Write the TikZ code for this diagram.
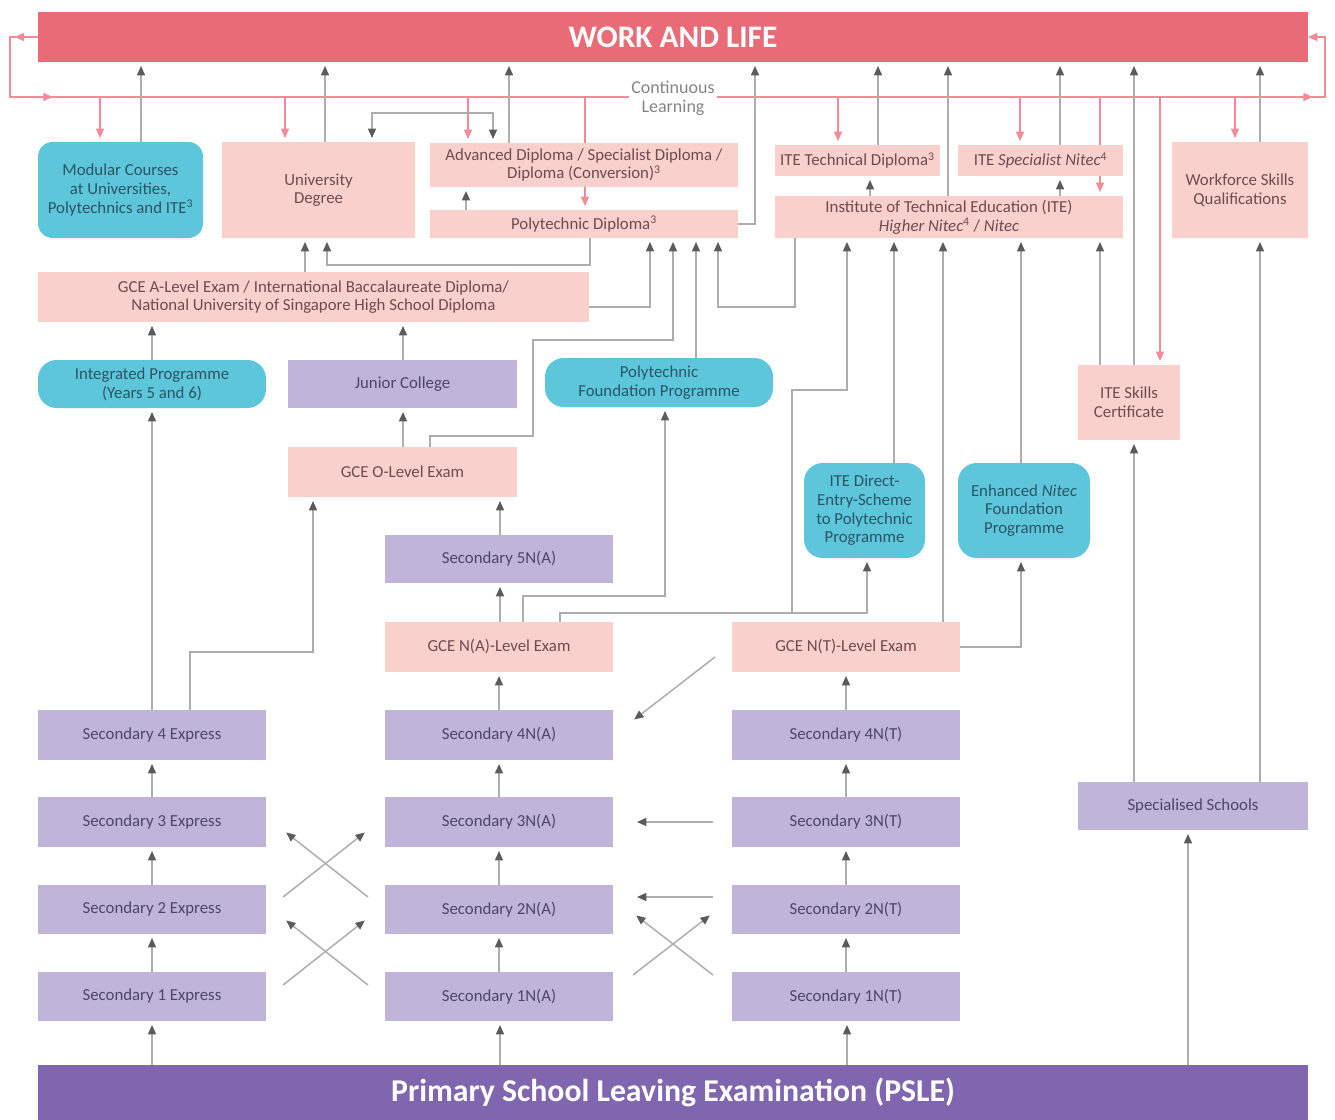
\documentclass[tikz,border=0pt]{standalone}
\usepackage{fontspec}
\setmainfont{Carlito}
\usetikzlibrary{arrows.meta,decorations.markings,calc}
\pgfdeclarelayer{paper}
\pgfdeclarelayer{bg}
\pgfsetlayers{paper,bg,main}
\definecolor{walc}{HTML}{EA6B78}
\definecolor{pinkc}{HTML}{F9D0CC}
\definecolor{purc}{HTML}{C1B4DA}
\definecolor{cyanc}{HTML}{5DC6DA}
\definecolor{pslec}{HTML}{7F66AF}
\definecolor{pkline}{HTML}{F28A97}
\definecolor{gline}{HTML}{ADADAD}
\definecolor{tipc}{HTML}{5B5B5B}
\definecolor{pinktxt}{HTML}{6D4C4F}
\definecolor{purtxt}{HTML}{4D4568}
\definecolor{cyantxt}{HTML}{2A5566}
\definecolor{cltxt}{HTML}{858585}
\newcommand\bx[7]{\pgfmathsetmacro\bxw{(#5-#3)*0.75}\pgfmathsetmacro\bxh{(#6-#4)*0.75}%
  \node[#1, minimum width=\bxw pt, minimum height=\bxh pt] (#2) at ({(#3+#5)/2},{(#4+#6)/2}) {#7};}
\newcommand\vup[4]{\draw[#1] (#2,0 |- #3) -- (#2,0 |- #4);}
\tikzset{
  base/.style={rectangle, inner sep=2pt, outer sep=0pt, align=center, font=\fontsize{12.6}{14}\selectfont},
  pinkbox/.style={base, fill=pinkc, text=pinktxt},
  purbox/.style={base, fill=purc, text=purtxt},
  cyanbox/.style={base, fill=cyanc, text=cyantxt, rounded corners=14pt},
  walbox/.style={base, fill=walc, text=white, font=\fontsize{23.5}{26}\selectfont\bfseries},
  pslebox/.style={base, fill=pslec, text=white, font=\fontsize{23.8}{26}\selectfont\bfseries},
  gar/.style={draw=gline, line width=1.1pt, -{Triangle[length=7pt,width=6pt,color=tipc]}, shorten >=3pt},
  gboth/.style={draw=gline, line width=1.1pt, {Triangle[length=7pt,width=6pt,color=tipc]}-{Triangle[length=7pt,width=6pt,color=tipc]}, shorten >=3pt, shorten <=3pt},
  pka/.style={draw=pkline, line width=0.9pt, -{Triangle[length=7pt,width=6pt,color=pkline]}, shorten >=3pt},
}
\begin{document}
\begin{tikzpicture}[x=0.75pt, y=-0.75pt]
\begin{pgfonlayer}{paper}
\fill[white] (0,0) rectangle (1335,1120);
\end{pgfonlayer}
\useasboundingbox (0,0) rectangle (1335,1120);
% boxes
\bx{walbox}{wal}{38}{12}{1308}{62}{WORK AND LIFE}
\bx{cyanbox, rounded corners=11pt}{mod}{38}{142}{203}{238}{Modular Courses\\at Universities,\\Polytechnics and ITE\textsuperscript{3}}
\bx{pinkbox}{uni}{222}{142}{415}{238}{University\\Degree}
\bx{pinkbox}{adv}{430}{143}{738}{187}{Advanced Diploma / Specialist Diploma /\\Diploma (Conversion)\textsuperscript{3}}
\bx{pinkbox}{poly}{430}{210}{738}{238}{Polytechnic Diploma\textsuperscript{3}}
\bx{pinkbox}{itetd}{775}{145}{940}{176}{ITE Technical Diploma\textsuperscript{3}}
\bx{pinkbox}{itesn}{958}{145}{1123}{176}{ITE \textit{Specialist Nitec}\textsuperscript{4}}
\bx{pinkbox}{ite}{775}{196}{1123}{238}{Institute of Technical Education (ITE)\\\textit{Higher Nitec}\textsuperscript{4} / \textit{Nitec}}
\bx{pinkbox}{wsq}{1172}{142}{1308}{238}{Workforce Skills\\Qualifications}
\bx{pinkbox}{alevel}{38}{272}{589}{322}{GCE A-Level Exam / International Baccalaureate Diploma/\\National University of Singapore High School Diploma}
\bx{cyanbox}{ip}{38}{360}{266}{408}{Integrated Programme\\(Years 5 and 6)}
\bx{purbox}{jc}{288}{360}{517}{408}{Junior College}
\bx{cyanbox}{pfp}{545}{358}{773}{407}{Polytechnic\\Foundation Programme}
\bx{pinkbox}{itesc}{1078}{365}{1180}{440}{ITE Skills\\Certificate}
\bx{pinkbox}{olevel}{288}{447}{517}{497}{GCE O-Level Exam}
\bx{cyanbox}{dsp}{804}{463}{925}{558}{ITE Direct-\\Entry-Scheme\\to Polytechnic\\Programme}
\bx{cyanbox}{enfp}{958}{463}{1090}{558}{Enhanced \textit{Nitec}\\Foundation\\Programme}
\bx{purbox}{sec5na}{385}{535}{613}{583}{Secondary 5N(A)}
\bx{pinkbox}{gcena}{385}{622}{613}{672}{GCE N(A)-Level Exam}
\bx{pinkbox}{gcent}{732}{622}{960}{672}{GCE N(T)-Level Exam}
\bx{purbox}{sec4e}{38}{710}{266}{760}{Secondary 4 Express}
\bx{purbox}{sec4na}{385}{710}{613}{760}{Secondary 4N(A)}
\bx{purbox}{sec4nt}{732}{710}{960}{760}{Secondary 4N(T)}
\bx{purbox}{sec3e}{38}{797}{266}{847}{Secondary 3 Express}
\bx{purbox}{sec3na}{385}{797}{613}{847}{Secondary 3N(A)}
\bx{purbox}{sec3nt}{732}{797}{960}{847}{Secondary 3N(T)}
\bx{purbox}{sec2e}{38}{885}{266}{934}{Secondary 2 Express}
\bx{purbox}{sec2na}{385}{885}{613}{934}{Secondary 2N(A)}
\bx{purbox}{sec2nt}{732}{885}{960}{934}{Secondary 2N(T)}
\bx{purbox}{sec1e}{38}{972}{266}{1021}{Secondary 1 Express}
\bx{purbox}{sec1na}{385}{972}{613}{1021}{Secondary 1N(A)}
\bx{purbox}{sec1nt}{732}{972}{960}{1021}{Secondary 1N(T)}
\bx{purbox}{spec}{1078}{782}{1308}{830}{Specialised Schools}
\bx{pslebox}{psle}{38}{1065}{1308}{1120}{Primary School Leaving Examination (PSLE)}
\coordinate (cl) at (10,97);
\coordinate (cr) at (1325,97);
\node[fill=white, inner sep=1.5pt, align=center, text=cltxt, font=\fontsize{13.5}{14}\selectfont] (cll) at (673,98) {Continuous\\Learning};
\begin{pgfonlayer}{bg}
% continuous learning loop
\draw[draw=pkline, line width=0.9pt, -{Triangle[length=7pt,width=6pt,color=pkline]},
  decoration={markings,
    mark=at position 17.5pt with {\arrow{Triangle[length=7pt,width=6pt,color=pkline]}},
    mark=at position 98pt with {\arrow{Triangle[length=7pt,width=6pt,color=pkline]}},
    mark=at position 1043pt with {\arrow{Triangle[length=7pt,width=6pt,color=pkline]}}},
  postaction={decorate}]
  (wal.west) -- (cl |- wal.west) -- (cl) -- (cr) -- (cr |- wal.east) -- (wal.east);
% pink feeders
\vup{pka}{100}{cl}{mod.north}
\vup{pka}{285}{cl}{uni.north}
\vup{pka}{468}{cl}{adv.north}
\vup{pka}{585}{cl}{poly.north}
\vup{pka}{838}{cl}{itetd.north}
\vup{pka}{1020}{cl}{itesn.north}
\vup{pka}{1100}{cl}{ite.north}
\vup{pka}{1160}{cl}{itesc.north}
\vup{pka}{1235}{cl}{wsq.north}
% up to work and life
\vup{gar}{141}{mod.north}{wal.south}
\vup{gar}{325}{uni.north}{wal.south}
\vup{gar}{509}{adv.north}{wal.south}
\draw[gar] (poly.east) -- (755,0 |- poly.east) -- (755,0 |- wal.south);
\vup{gar}{878}{itetd.north}{wal.south}
\vup{gar}{948}{ite.north}{wal.south}
\vup{gar}{1060}{itesn.north}{wal.south}
\vup{gar}{1134}{itesc.north}{wal.south}
\vup{gar}{1260}{wsq.north}{wal.south}
% upper links
\draw[gboth] (372,0 |- uni.north) -- (372,113) -- (493,113) -- (493,0 |- adv.north);
\vup{gar}{466}{poly.north}{adv.south}
\vup{gar}{870}{ite.north}{itetd.south}
\vup{gar}{1060}{ite.north}{itesn.south}
\vup{gar}{305}{alevel.north}{uni.south}
\draw[gar] (590,0 |- poly.south) -- (590,265) -- (327,265) -- (327,0 |- uni.south);
\draw[gar] (alevel.east |- 0,307) -- (650,307) -- (650,0 |- poly.south);
\draw[gar] (430,0 |- olevel.north) -- (430,436) -- (533,436) -- (533,340) -- (673,340) -- (673,0 |- poly.south);
\vup{gar}{696}{pfp.north}{poly.south}
\draw[gar] (795,0 |- ite.south) -- (795,307) -- (718,307) -- (718,0 |- poly.south);
\vup{gar}{152}{ip.north}{alevel.south}
\vup{gar}{403}{jc.north}{alevel.south}
\vup{gar}{403}{olevel.north}{jc.south}
\vup{gar}{152}{sec4e.north}{ip.south}
\draw[gar] (190,0 |- sec4e.north) -- (190,652) -- (313,652) -- (313,0 |- olevel.south);
\vup{gar}{500}{sec5na.north}{olevel.south}
\vup{gar}{500}{gcena.north}{sec5na.south}
\draw[gar] (523,0 |- gcena.north) -- (523,596) -- (665,596) -- (665,0 |- pfp.south);
\draw[gar] (560,0 |- gcena.north) -- (560,613) -- (867,613) -- (867,0 |- dsp.south);
\coordinate (j1) at (792,613);
\draw[gar] (j1) -- (792,390) -- (847,390) -- (847,0 |- ite.south);
\vup{gar}{943}{gcent.north}{ite.south}
\draw[gar] (gcent.east) -- (1021,0 |- gcent.east) -- (1021,0 |- enfp.south);
\vup{gar}{1021}{enfp.north}{ite.south}
\vup{gar}{894}{dsp.north}{ite.south}
\vup{gar}{1100}{itesc.north}{ite.south}
\vup{gar}{1134}{spec.north}{itesc.south}
\vup{gar}{1260}{spec.north}{wsq.south}
\vup{gar}{1188}{psle.north}{spec.south}
% secondary columns
\vup{gar}{152}{psle.north}{sec1e.south}
\vup{gar}{500}{psle.north}{sec1na.south}
\vup{gar}{847}{psle.north}{sec1nt.south}
\draw[gar] (sec1e.north) -- (sec2e.south);
\draw[gar] (sec2e.north) -- (sec3e.south);
\draw[gar] (sec3e.north) -- (sec4e.south);
\draw[gar] (sec1na.north) -- (sec2na.south);
\draw[gar] (sec2na.north) -- (sec3na.south);
\draw[gar] (sec3na.north) -- (sec4na.south);
\draw[gar] (sec4na.north) -- (gcena.south);
\draw[gar] (sec1nt.north) -- (sec2nt.south);
\draw[gar] (sec2nt.north) -- (sec3nt.south);
\draw[gar] (sec3nt.north) -- (sec4nt.south);
\draw[gar] (sec4nt.north) -- (gcent.south);
% lateral transfers
\draw[gar] ($(sec2e.east)+(17,-12.5)$) -- ($(sec3na.west)+(-17,8)$);
\draw[gar] ($(sec2na.west)+(-17,-12.5)$) -- ($(sec3e.east)+(17,8)$);
\draw[gar] ($(sec1e.east)+(17,-11.5)$) -- ($(sec2na.west)+(-17,8.5)$);
\draw[gar] ($(sec1na.west)+(-17,-11.5)$) -- ($(sec2e.east)+(17,8.5)$);
\draw[gar] ($(sec1na.east)+(20,-21.5)$) -- ($(sec2nt.west)+(-19,3.5)$);
\draw[gar] ($(sec1nt.west)+(-19,-21.5)$) -- ($(sec2na.east)+(20,3.5)$);
\draw[gar] ($(sec3nt.west)+(-19,0)$) -- ($(sec3na.east)+(20,0)$);
\draw[gar] ($(sec2nt.west)+(-19,-12.5)$) -- ($(sec2na.east)+(20,-12.5)$);
\draw[gar] ($(gcent.west)+(-17,10)$) -- ($(sec4na.east)+(18,-13)$);
\end{pgfonlayer}
\end{tikzpicture}
\end{document}
